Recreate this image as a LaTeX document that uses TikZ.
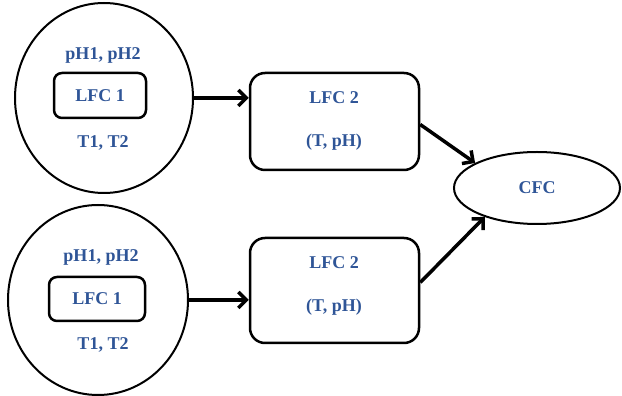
\documentclass[tikz,border=0pt]{standalone}
\usepackage{fontspec}
\setmainfont{Liberation Serif}
\usetikzlibrary{shapes.geometric,arrows.meta,positioning}
\definecolor{labelBlue}{RGB}{47,85,151}

\begin{document}
\begin{tikzpicture}[x=1pt,y=1pt,
  zone/.style={ellipse,draw,line width=2pt,inner sep=0pt},
  inbox/.style={rectangle,draw,line width=2.5pt,rounded corners=8pt,
                minimum width=92pt,minimum height=45pt,align=center},
  lfcbox/.style={rectangle,draw,line width=2.5pt,rounded corners=15pt,
                 minimum width=169pt,align=center},
  cfcnode/.style={ellipse,draw,line width=2pt,minimum width=166pt,minimum height=72pt},
  lbl/.style={text=labelBlue,font=\fontsize{18}{21}\selectfont\bfseries,inner sep=0pt},
  arr/.style={-{Straight Barb[length=8pt,width=16pt]},line width=3.5pt}
]
  \useasboundingbox (0,0) rectangle (622,396);
  % first chain
  \node[zone,minimum width=178pt,minimum height=190pt](zoneA) at (104,298) {};
  \node[inbox,lbl](lfcOneA) at (100,300.5) {LFC 1};
  \node[lbl](phA) at (103,341) {pH1, pH2};
  \node[lbl](tA)  at (103,253) {T1, T2};
  \node[lfcbox,minimum height=97pt](lfcA) at (334.5,274.5) {};
  \node[lbl](lfcTwoA) at (334,298) {LFC 2};
  \node[lbl](tphA)    at (334,254) {(T, pH)};
  % second chain
  \node[zone,minimum width=180pt,minimum height=190pt](zoneB) at (98,96) {};
  \node[inbox,lbl,minimum width=96pt,minimum height=44pt](lfcOneB) at (97,97) {LFC 1};
  \node[lbl](phB) at (101,139) {pH1, pH2};
  \node[lbl](tB)  at (103,51) {T1, T2};
  \node[lfcbox,minimum height=105pt](lfcB) at (334.5,105.5) {};
  \node[lbl](lfcTwoB) at (334,133) {LFC 2};
  \node[lbl](tphB)    at (334,89) {(T, pH)};
  % combined
  \node[cfcnode,lbl,draw=black,line width=2pt,minimum width=166pt,minimum height=72pt,inner sep=3pt](cfc) at (537,208) {CFC};
  \draw[arr](zoneA.east)--(zoneA.east -| lfcA.west);
  \draw[arr](zoneB.east)--(zoneB.east -| lfcB.west);
  \draw[arr]([yshift=-3pt]lfcA.east)--(cfc.158);
  \draw[arr]([yshift=8pt]lfcB.east)--(cfc.209);
\end{tikzpicture}
\end{document}
